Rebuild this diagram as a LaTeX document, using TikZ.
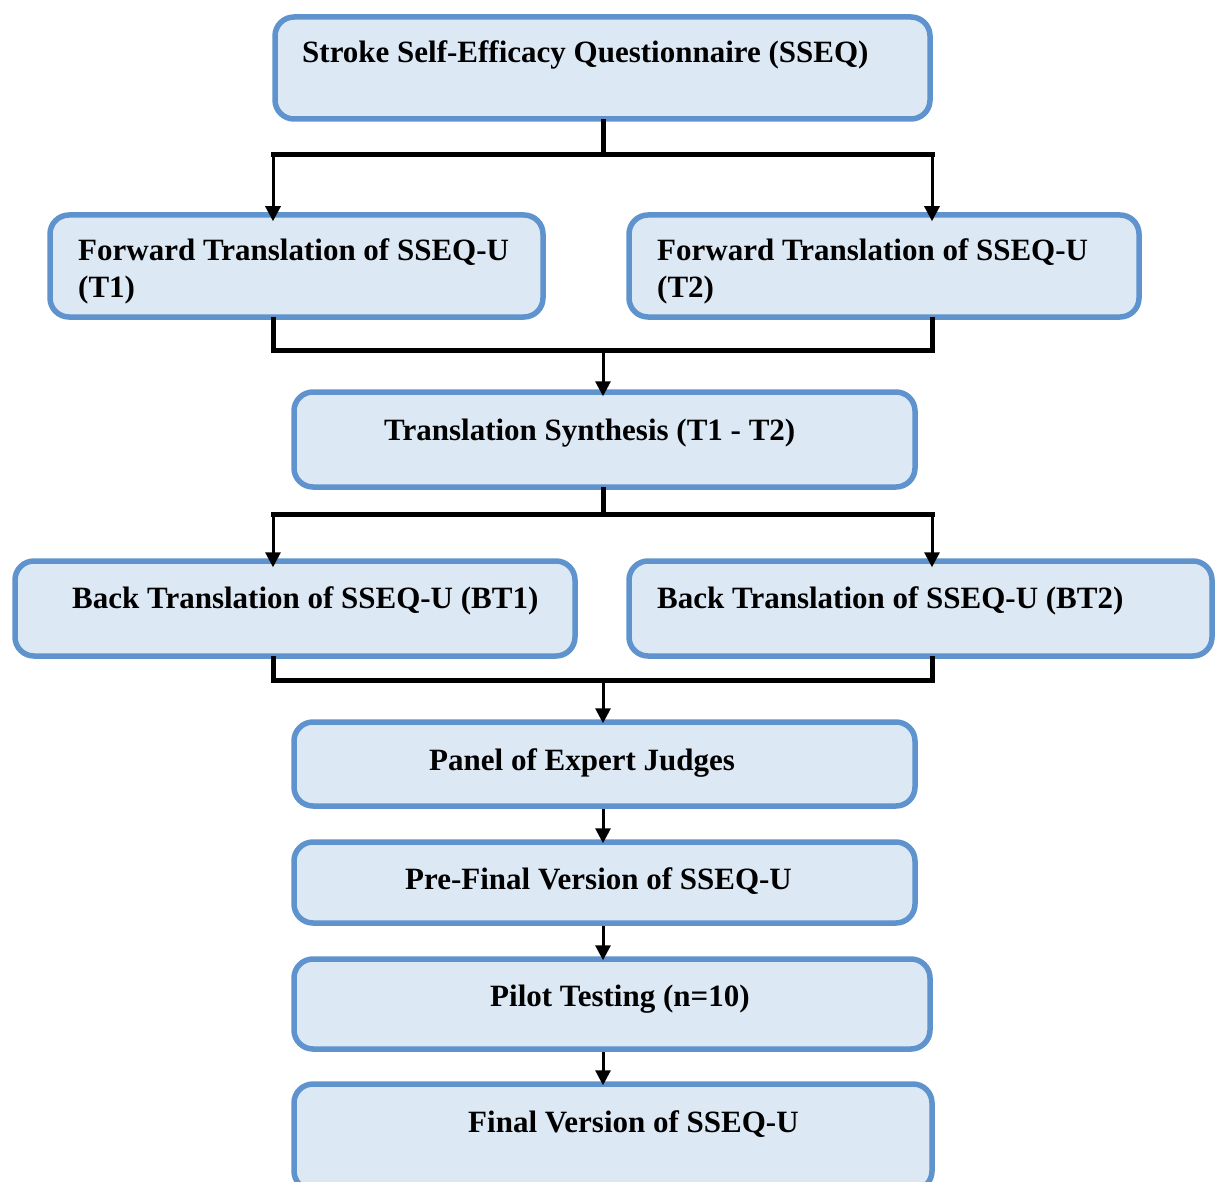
\documentclass[tikz,border=0pt]{standalone}
\usepackage{fontspec}
\setmainfont{Liberation Serif}
\usetikzlibrary{arrows.meta}
\definecolor{boxedge}{HTML}{5E93CD}
\definecolor{boxfill}{HTML}{DDE8F5}
\begin{document}
\begin{tikzpicture}[x=1pt,y=-1pt,
  box/.style={draw=boxedge, fill=boxfill, line width=5.5pt, rounded corners=19pt, rectangle, inner sep=0pt},
  lbl/.style={anchor=base west, inner sep=0pt, font=\fontsize{31}{37}\selectfont\bfseries, text=black},
  bar/.style={line width=5pt, line cap=rect},
  arr/.style={line width=3pt, -{Triangle[length=15pt,width=15pt]}}]
\useasboundingbox (0,0) rectangle (1217,1182);
% boxes
\node[box, minimum width=655pt, minimum height=102pt] (sseq) at (602.5,68) {};
\node[box, minimum width=493pt, minimum height=102pt] (ft1) at (296.5,266) {};
\node[box, minimum width=510pt, minimum height=102pt] (ft2) at (884,266) {};
\node[box, minimum width=621pt, minimum height=95pt] (syn) at (604.5,439.5) {};
\node[box, minimum width=560pt, minimum height=95pt] (bt1) at (295,608.5) {};
\node[box, minimum width=583pt, minimum height=95pt] (bt2) at (920.5,608.5) {};
\node[box, minimum width=621pt, minimum height=84pt] (panel) at (604.5,764) {};
\node[box, minimum width=621pt, minimum height=81pt] (pre) at (604.5,882.5) {};
\node[box, minimum width=636pt, minimum height=90pt] (pilot) at (612,1004) {};
\node[box, minimum width=638pt, minimum height=106pt] (final) at (613,1137) {};
% labels
\node[lbl] (tsseq) at (302,63) {Stroke Self-Efficacy Questionnaire (SSEQ)};
\node[lbl] (tft1a) at (78,260) {Forward Translation of SSEQ-U};
\node[lbl] (tft1b) at (78,297) {(T1)};
\node[lbl] (tft2a) at (657,260) {Forward Translation of SSEQ-U};
\node[lbl] (tft2b) at (657,297) {(T2)};
\node[lbl] (tsyn) at (384,440) {Translation Synthesis (T1 - T2)};
\node[lbl] (tbt1) at (72,608) {Back Translation of SSEQ-U (BT1)};
\node[lbl] (tbt2) at (657,608) {Back Translation of SSEQ-U (BT2)};
\node[lbl] (tpanel) at (429,770) {Panel of Expert Judges};
\node[lbl] (tpre) at (405,889) {Pre-Final Version of SSEQ-U};
\node[lbl] (tpilot) at (490,1006) {Pilot Testing (n=10)};
\node[lbl] (tfinal) at (468,1132) {Final Version of SSEQ-U};
% junction coordinates
\coordinate (s1) at (603,155);
\coordinate (s1L) at (273,155);
\coordinate (s1R) at (932,155);
\coordinate (m1) at (603,350);
\coordinate (m1L) at (273,350);
\coordinate (m1R) at (932,350);
\coordinate (s2) at (603,514);
\coordinate (s2L) at (273,514);
\coordinate (s2R) at (932,514);
\coordinate (m2) at (603,680);
\coordinate (m2L) at (273,680);
\coordinate (m2R) at (932,680);
% split 1
\draw[bar] (sseq.south -| s1) -- (s1);
\draw[bar] (s1L) -- (s1R);
\draw[arr] (s1L) -- ([yshift=-9pt]s1L |- ft1.north);
\draw[arr] (s1R) -- ([yshift=-9pt]s1R |- ft2.north);
% merge 1
\draw[bar] (ft1.south -| m1L) -- (m1L) -- (m1R) -- (ft2.south -| m1R);
\draw[arr] (m1) -- ([yshift=-7pt]syn.north -| m1);
% split 2
\draw[bar] (syn.south -| s2) -- (s2);
\draw[bar] (s2L) -- (s2R);
\draw[arr] (s2L) -- ([yshift=-9pt]s2L |- bt1.north);
\draw[arr] (s2R) -- ([yshift=-9pt]s2R |- bt2.north);
% merge 2
\draw[bar] (bt1.south -| m2L) -- (m2L) -- (m2R) -- (bt2.south -| m2R);
\draw[arr] (m2) -- ([yshift=-4pt]panel.north -| m2);
% chain
\draw[arr] (panel.south -| m2) -- ([yshift=-4pt]pre.north -| m2);
\draw[arr] (pre.south -| m2) -- ([yshift=-4pt]pilot.north -| m2);
\draw[arr] (pilot.south -| m2) -- ([yshift=-4pt]final.north -| m2);
\end{tikzpicture}
\end{document}
